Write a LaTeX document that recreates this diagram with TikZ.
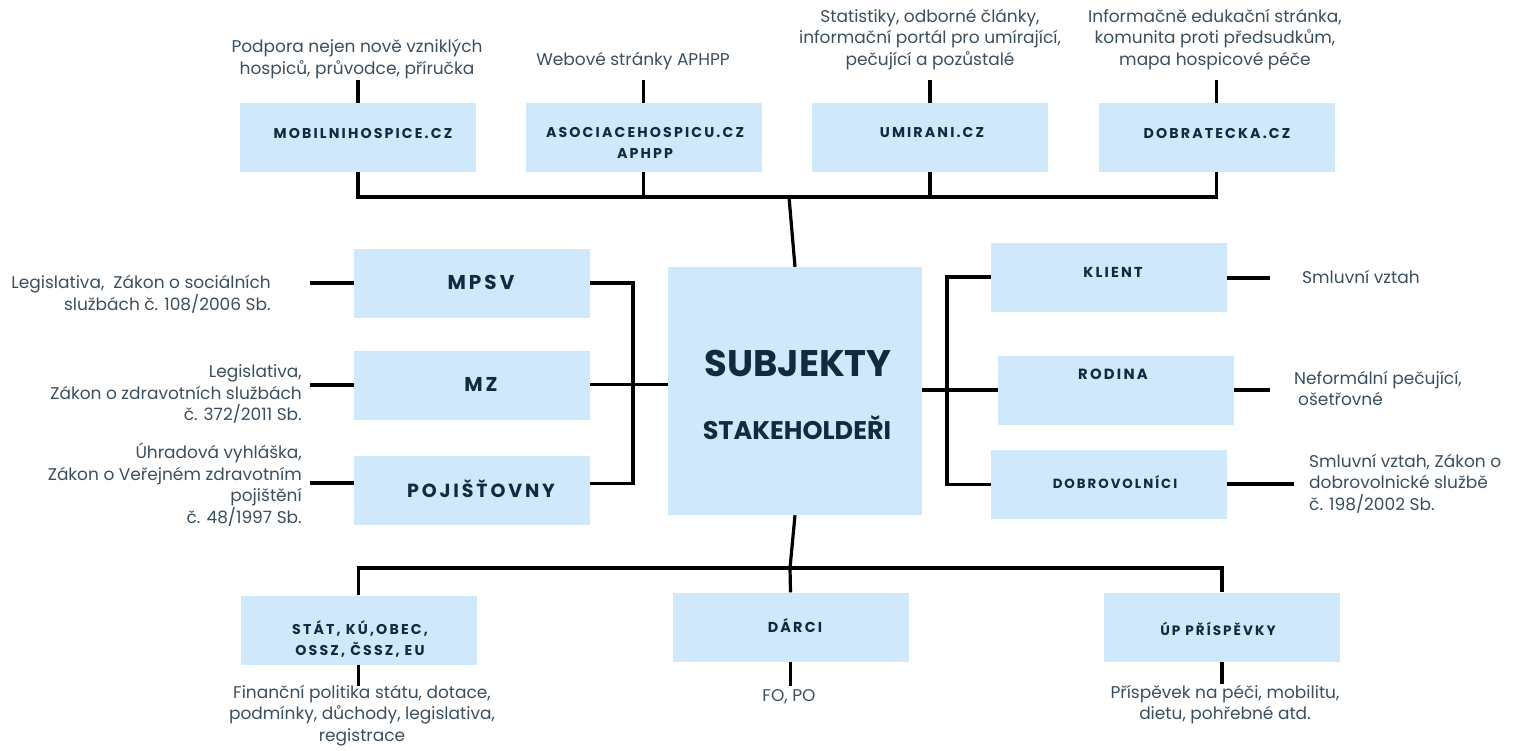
\documentclass[tikz,border=0pt]{standalone}
\usepackage{fontspec}
\setmainfont{Poppins}
\newfontfamily\ttlfont[LetterSpace=15]{Poppins}
\newfontfamily\ctrfont{Poppins}
\definecolor{boxblue}{HTML}{CFE9FA}
\definecolor{ttlcol}{HTML}{13293D}
\definecolor{bodycol}{HTML}{3A4F5E}
\begin{document}
\begin{tikzpicture}[x=1pt,y=-1pt,
  box/.style={fill=boxblue, inner sep=0pt, minimum width=236pt, minimum height=69pt},
  ttl/.style={text=ttlcol, inner sep=0pt, align=center, font=\ttlfont\bfseries\fontsize{14.2}{20.5}\selectfont},
  body/.style={text=bodycol, inner sep=0pt, font=\fontsize{17}{21.7}\selectfont},
  conn/.style={line width=3.2pt, black}]
\useasboundingbox (0,0) rectangle (1515,750);

% boxes
\node[box] (mob) at (358,137.5) {};
\node[box] (aso) at (643.5,137.5) {};
\node[box] (umi) at (930,137.5) {};
\node[box] (dob) at (1216.5,137.5) {};
\node[box, minimum width=254pt, minimum height=248pt] (sub) at (795,391) {};
\node[box] (mpsv) at (472,283) {};
\node[box] (mz) at (472,385.5) {};
\node[box] (poj) at (472,490.5) {};
\node[box] (kl) at (1109,277) {};
\node[box] (rod) at (1116,390) {};
\node[box] (dobr) at (1109,484.5) {};
\node[box] (stat) at (358.5,630) {};
\node[box] (darci) at (790.5,627) {};
\node[box] (up) at (1222,627) {};

% titles
\node[ttl] (mobT) at (363,133) {MOBILNIHOSPICE.CZ};
\node[ttl] (asoT) at (645,143) {ASOCIACEHOSPICU.CZ\\APHPP};
\node[ttl] (umiT) at (932,133) {UMIRANI.CZ};
\node[ttl] (dobT) at (1217,133) {DOBRATECKA.CZ};
\node[text=ttlcol, inner sep=0pt, font=\ctrfont\bfseries\fontsize{37}{40}\selectfont] (subT) at (798,363) {SUBJEKTY};
\node[text=ttlcol, inner sep=0pt, font=\ctrfont\bfseries\fontsize{25.5}{28}\selectfont] (stkT) at (797,428) {STAKEHOLDEŘI};
\node[ttl, font=\ttlfont\bfseries\fontsize{20}{22}\selectfont] (mpsvT) at (481,282) {MPSV};
\node[ttl, font=\ttlfont\bfseries\fontsize{20}{22}\selectfont] (mzT) at (481,384) {MZ};
\node[ttl, font=\ttlfont\bfseries\fontsize{19}{22}\selectfont] (pojT) at (481,489) {POJIŠŤOVNY};
\node[ttl, font=\ttlfont\bfseries\fontsize{14.4}{20}\selectfont] (klT) at (1113,272) {KLIENT};
\node[ttl, font=\ttlfont\bfseries\fontsize{14.8}{20}\selectfont] (rodT) at (1113,374) {RODINA};
\node[ttl, font=\ttlfont\bfseries\fontsize{13.3}{20}\selectfont] (dobrT) at (1115,482) {DOBROVOLNÍCI};
\node[ttl] (statT) at (360,639) {STÁT, KÚ,OBEC,\\OSSZ, ČSSZ, EU};
\node[ttl, font=\ttlfont\bfseries\fontsize{14.4}{20}\selectfont] (darciT) at (795,625) {DÁRCI};
\node[ttl, font=\ttlfont\bfseries\fontsize{13.6}{20}\selectfont] (upT) at (1218,629) {ÚP PŘÍSPĚVKY};

% body texts
\node[body, align=center] (mobD) at (357,59) {Podpora nejen nově vzniklých\\hospiců, průvodce, příručka};
\node[body, align=center] (asoD) at (633,61) {Webové stránky APHPP};
\node[body, align=center] (umiD) at (930,39.5) {Statistiky, odborné články,\\informační portál pro umírající,\\pečující a pozůstalé};
\node[body, align=center] (dobD) at (1215,39.5) {Informačně edukační stránka,\\komunita proti předsudkům,\\mapa hospicové péče};
\node[body, align=right, anchor=east] (mpsvD) at (271,294.5) {Legislativa,\ \ Zákon o sociálních\\službách č. 108/2006 Sb.};
\node[body, align=right, anchor=east] (mzD) at (302,394) {Legislativa,\\Zákon o zdravotních službách\\č. 372/2011 Sb.};
\node[body, align=right, anchor=east] (pojD) at (302,484.5) {Úhradová vyhláška,\\Zákon o Veřejném zdravotním\\pojištění\\č. 48/1997 Sb.};
\node[body, align=left, anchor=west] (klD) at (1302,277) {Smluvní vztah};
\node[body, align=left, anchor=west] (rodD) at (1294,388.5) {Neformální pečující,\\\hspace*{4pt}ošetřovné};
\node[body, align=left, anchor=west] (dobrD) at (1309,483.5) {Smluvní vztah, Zákon o\\dobrovolnické službě\\č. 198/2002 Sb.};
\node[body, align=center] (statD) at (362,715.5) {Finanční politika státu, dotace,\\podmínky, důchody, legislativa,\\registrace};
\node[body, align=center] (darciD) at (789,697) {FO, PO};
\node[body, align=center] (upD) at (1225,704.5) {Příspěvek na péči, mobilitu,\\dietu, pohřebné atd.};

% coordinates
\coordinate (busT) at (789,197);
\coordinate (busB) at (790,568);

% top connectors
\draw[conn] (mob.south) -- (mob.south |- busT) -| (dob.south);
\draw[conn] (aso.south) -- (aso.south |- busT);
\draw[conn] (umi.south) -- (umi.south |- busT);
\draw[conn] (busT) -- (sub.north);
\draw[conn] (mob.north) -- ++(0,-23);
\draw[conn] (aso.north) -- ++(0,-23);
\draw[conn] (umi.north) -- ++(0,-23);
\draw[conn] (dob.north) -- ++(0,-23);

% left connectors
\coordinate (busL) at (633,283);
\draw[conn] (mpsv.east) -- (busL) |- ([yshift=7pt]poj.east);
\draw[conn] ([yshift=1pt]mz.east) -- ([yshift=1pt]mz.east -| sub.west);
\coordinate (lm) at (310,283);
\coordinate (lz) at (310,385);
\coordinate (lp) at (310,483);
\draw[conn] (lm) -- (lm -| mpsv.west);
\draw[conn] (lz) -- (lz -| mz.west);
\draw[conn] (lp) -- (lp -| poj.west);

% right connectors
\coordinate (busR) at (947,277);
\draw[conn] (kl.west) -- (busR) |- (dobr.west);
\draw[conn] (rod.west -| sub.east) -- (rod.west);
\coordinate (rk) at (1270,278);
\coordinate (rr) at (1270,390);
\coordinate (rd) at (1294,484);
\draw[conn] (rk -| kl.east) -- (rk);
\draw[conn] (rod.east) -- (rr);
\draw[conn] (rd -| dobr.east) -- (rd);

% bottom connectors
\draw[conn] (sub.south) -- (busB);
\draw[conn] (stat.north) -- (stat.north |- busB) -| (up.north);
\draw[conn] (busB) -- (darci.north);
\draw[conn] (stat.south) -- ++(0,21);
\draw[conn] (darci.south) -- ++(0,24);
\draw[conn] (up.south) -- ++(0,22);
\end{tikzpicture}
\end{document}
